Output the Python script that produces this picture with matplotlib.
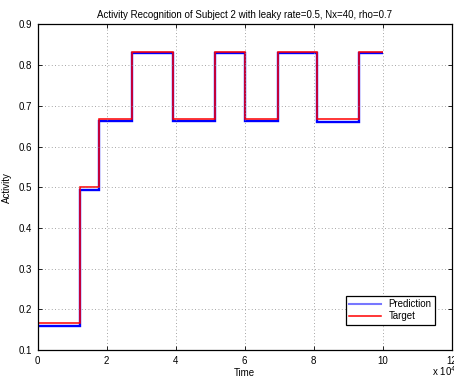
import matplotlib.pyplot as plt
from matplotlib.ticker import FuncFormatter

plt.rcParams['font.family'] = ['Liberation Sans', 'DejaVu Sans']

# segment boundaries (time steps) and activity levels per segment
edges = [0, 12300, 17800, 27200, 39300, 51400, 60100, 69600, 81000, 93100, 100200]
target = [1/6, 0.5, 2/3, 5/6, 2/3, 5/6, 2/3, 5/6, 2/3, 5/6]
prediction = [0.160, 0.492, 0.662, 0.830, 0.662, 0.830, 0.662, 0.830, 0.661, 0.829]

fig = plt.figure(figsize=(4.54, 3.79), dpi=100)
ax = fig.add_axes([0.083, 0.0765, 0.912, 0.859])

ax.stairs(prediction, edges, baseline=None, color='#0000ff', linewidth=1.7, label='Prediction')
ax.stairs(target, edges, baseline=None, color='#ff0000', linewidth=1.1, label='Target')

ax.set_xlim(0, 120000)
ax.set_ylim(0.1, 0.9)
ax.set_xticks(range(0, 120001, 20000))
ax.xaxis.set_major_formatter(FuncFormatter(lambda v, p: '%g' % (v / 1e4)))
ax.set_yticks([0.1 * i for i in range(1, 10)])
ax.yaxis.set_major_formatter(FuncFormatter(lambda v, p: '%.1f' % v))
ax.tick_params(direction='in', labelsize=7, length=3, width=0.6, top=True, right=True, pad=4)
ax.grid(True, color='#888888', linestyle=(0, (1, 3)), linewidth=0.6)
for s in ax.spines.values():
    s.set_linewidth(0.9)

ax.set_title('Activity Recognition of Subject 2 with leaky rate=0.5, Nx=40, rho=0.7', fontsize=7, pad=5)
ax.set_xlabel('Time', fontsize=7, labelpad=2)
ax.set_ylabel('Activity', fontsize=7, labelpad=5)
fig.text(0.951, 0.002, r'x 10$^4$', fontsize=7, va='bottom')

leg = ax.legend(loc='lower right', bbox_to_anchor=(0.972, 0.061), fontsize=7, fancybox=False,
                framealpha=1, edgecolor='black', handlelength=3.2, borderpad=0.4, labelspacing=0.2)
leg.get_frame().set_linewidth(0.9)
leg.get_lines()[0].set_color('#7777ff')
leg.get_lines()[0].set_linewidth(1.5)

fig.savefig('out.png', dpi=100)
